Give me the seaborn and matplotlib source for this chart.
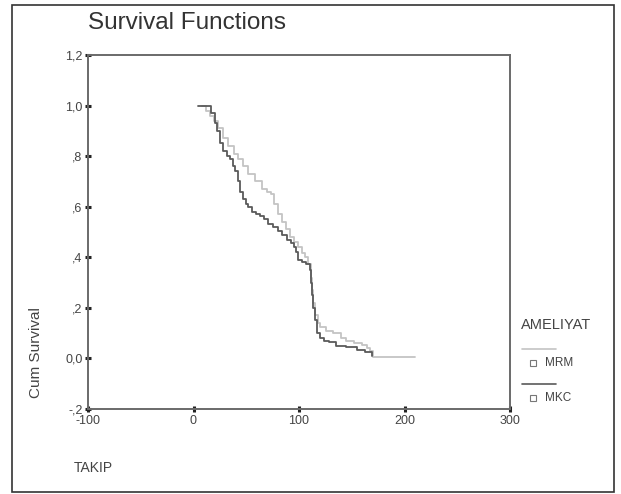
import matplotlib
matplotlib.use("Agg")
import matplotlib.pyplot as plt
import seaborn as sns
import pandas as pd
from matplotlib.lines import Line2D

sns.set_theme(style="white")
plt.rcParams['font.family'] = ['Liberation Sans', 'DejaVu Sans']

# MKC (dark curve)
mkc_time = [4, 17, 20, 22, 25, 28, 32, 35, 37, 39, 42, 44, 47, 50, 52, 55, 59, 63, 67, 71,
            75, 80, 84, 89, 92, 95, 97, 99, 103, 107, 110, 111, 112, 113, 115, 117, 120,
            124, 128, 135, 145, 155, 163, 169]
mkc_surv = [1.0, 0.97, 0.93, 0.90, 0.85, 0.82, 0.80, 0.79, 0.76, 0.74, 0.70, 0.66, 0.63, 0.61,
            0.60, 0.58, 0.57, 0.565, 0.55, 0.53, 0.52, 0.505, 0.49, 0.47, 0.455, 0.44, 0.42,
            0.39, 0.38, 0.375, 0.35, 0.30, 0.25, 0.20, 0.15, 0.10, 0.08, 0.07, 0.065, 0.05,
            0.045, 0.035, 0.025, 0.01]
# MRM (light curve)
mrm_time = [8, 12, 16, 19, 23, 28, 33, 38, 42, 47, 52, 58, 65, 70, 73, 76, 80, 84, 88, 91,
            95, 99, 103, 106, 109, 111, 112, 113, 115, 118, 120, 126, 132, 140, 145, 152,
            160, 164, 167, 170, 210]
mrm_surv = [1.0, 0.98, 0.96, 0.94, 0.91, 0.87, 0.84, 0.81, 0.79, 0.76, 0.73, 0.70, 0.67, 0.66,
            0.65, 0.61, 0.57, 0.54, 0.51, 0.48, 0.46, 0.44, 0.415, 0.40, 0.375, 0.32, 0.27,
            0.22, 0.17, 0.14, 0.125, 0.11, 0.10, 0.08, 0.067, 0.06, 0.055, 0.04, 0.03, 0.005,
            0.005]

groups = ["MRM", "MKC"]
x_ticks = [-100, 0, 100, 200, 300]
y_ticks = [-0.2, 0.0, 0.2, 0.4, 0.6, 0.8, 1.0, 1.2]
y_tick_labels = ["-,2", "0,0", ",2", ",4", ",6", ",8", "1,0", "1,2"]
colors = {"MRM": "#c4c4c4", "MKC": "#5a5a5a"}

df = pd.concat([
    pd.DataFrame({"TAKIP": mrm_time, "surv": mrm_surv, "AMELIYAT": "MRM"}),
    pd.DataFrame({"TAKIP": mkc_time, "surv": mkc_surv, "AMELIYAT": "MKC"}),
])

fig = plt.figure(figsize=(6.21, 4.94), dpi=100)
ax = fig.add_axes([88/621, 1 - 409/494, (510-88)/621, (409-55)/494])

for g in groups:
    sub = df[df["AMELIYAT"] == g]
    sns.lineplot(data=sub, x="TAKIP", y="surv", ax=ax, color=colors[g],
                 drawstyle="steps-post", estimator=None, sort=False,
                 linewidth=1.3, legend=False)

ax.set_xlim(-100, 300)
ax.set_ylim(-0.2, 1.2)
ax.set_xticks(x_ticks)
ax.set_xticklabels([str(v) for v in x_ticks])
ax.set_yticks(y_ticks)
ax.set_yticklabels(y_tick_labels)
ax.tick_params(axis="both", which="both", direction="inout", length=4, width=2.2,
               color="#222222", labelsize=9, labelcolor="#444444", pad=2,
               bottom=True, left=True)
ax.set_xlabel("")
ax.set_ylabel("")
for s in ax.spines.values():
    s.set_color("#6a6a6a")
    s.set_linewidth(1.4)
    s.set_visible(True)

fig.text(88/621, 1 - 23/494, "Survival Functions", fontsize=17.5, color="#333333",
         ha="left", va="center")
fig.text(36/621, 1 - 353/494, "Cum Survival", fontsize=11, color="#444444",
         rotation=90, ha="center", va="center")
fig.text(74/621, 1 - 468/494, "TAKIP", fontsize=10, color="#444444",
         ha="left", va="center")

# legend
fig.text(521/621, 1 - 325/494, "AMELIYAT", fontsize=10.5, color="#444444",
         ha="left", va="center")
for i, g in enumerate(groups):
    ly = 349 + i * 35
    fig.add_artist(Line2D([522/621, 556/621], [1 - ly/494, 1 - ly/494],
                          color=colors[g], linewidth=1.2, transform=fig.transFigure))
    fig.add_artist(Line2D([533/621], [1 - (ly + 14)/494], marker="s", markersize=4,
                          markerfacecolor="white", markeredgecolor="#777777",
                          markeredgewidth=0.8, linestyle="none",
                          transform=fig.transFigure))
    fig.text(545/621, 1 - (ly + 14)/494, g, fontsize=8.5, color="#444444",
             ha="left", va="center")

# outer frame
fig.add_artist(plt.Rectangle((12/621, 1 - 492/494), (614-12)/621, (492-5)/494,
                             fill=False, edgecolor="#333333", linewidth=1.2,
                             transform=fig.transFigure))

fig.savefig("out.png", dpi=100)
